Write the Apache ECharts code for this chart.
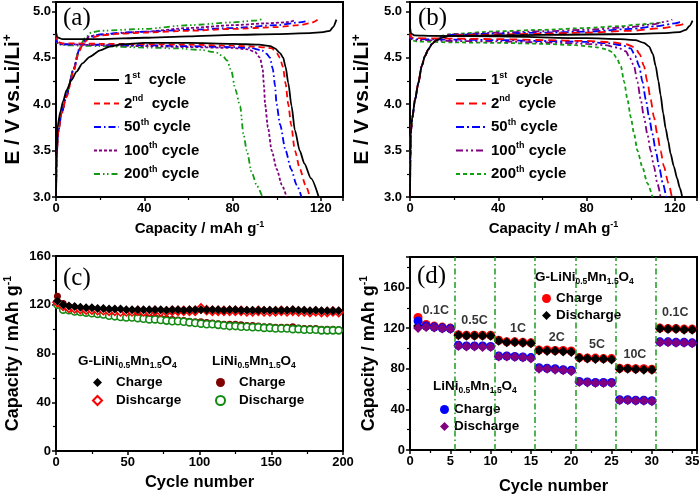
<!DOCTYPE html>
<html><head><meta charset="utf-8">
<script src="https://cdn.jsdelivr.net/npm/echarts/dist/echarts.min.js"></script>
<style>html,body{margin:0;padding:0;background:#fff}#c{width:700px;height:496px}</style>
</head><body><div id="c"></div>
<script>
// ---------- Panel (a): G-LiNi0.5Mn1.5O4 voltage profiles ----------
const a1_up = [[0,4.78],[0.6,4.72],[3,4.70],[20,4.70],[40,4.715],[60,4.73],[80,4.745],[100,4.755],[115,4.765],[121,4.775],[124,4.79],[125.5,4.83],[127,4.91]];
const a1_low = [[0,3.0],[0.3,3.5],[0.7,3.76],[2,3.92],[3.2,4.03],[4.8,4.15],[7,4.26],[9.3,4.35],[12,4.44],[15.3,4.51],[20,4.58],[24.3,4.62],[30,4.645],[40,4.66],[60,4.66],[80,4.65],[92,4.64],[97,4.625],[99.2,4.6],[101.5,4.55],[102.9,4.5],[104,4.4],[105.2,4.23],[106.7,3.98],[108.2,3.72],[110.4,3.5],[112.5,3.36],[115.5,3.2],[119,3.0]];
const a2_ch = [[0,3.0],[0.3,3.45],[1,3.7],[2.5,3.9],[4.8,4.08],[7.8,4.34],[10.5,4.57],[12.5,4.66],[15,4.71],[20,4.74],[30,4.76],[40,4.77],[60,4.79],[80,4.81],[100,4.83],[110,4.85],[115,4.87],[118.5,4.91]];
const a2_dis = [[0,4.76],[0.6,4.67],[3,4.655],[20,4.65],[40,4.645],[60,4.64],[80,4.63],[90,4.62],[95,4.61],[97.7,4.6],[100,4.55],[101.4,4.5],[102.8,4.4],[104,4.22],[105.2,4.0],[106.5,3.78],[108.2,3.5],[110.5,3.3],[113,3.13],[115,3.0]];
const a50_ch = [[0,3.0],[0.3,3.45],[1,3.7],[2.5,3.9],[4.8,4.1],[7.8,4.36],[10.5,4.58],[12.5,4.67],[15,4.72],[20,4.75],[30,4.77],[40,4.78],[60,4.80],[80,4.82],[100,4.85],[110,4.88],[114.5,4.90]];
const a50_dis = [[0,4.74],[0.6,4.66],[3,4.645],[20,4.64],[40,4.635],[60,4.625],[80,4.615],[88,4.605],[93.2,4.58],[95.5,4.54],[96.9,4.5],[98.2,4.38],[99.2,4.2],[99.9,4.0],[101.5,3.78],[104,3.5],[106.5,3.3],[109,3.13],[111.2,3.0]];
const a100_ch = [[0,3.0],[0.3,3.45],[1,3.7],[2.5,3.9],[4.8,4.1],[7.8,4.36],[10.5,4.59],[12.5,4.68],[15,4.73],[20,4.75],[40,4.78],[60,4.82],[80,4.85],[95,4.87],[104,4.88],[108,4.90]];
const a100_dis = [[0,4.73],[0.6,4.66],[3,4.645],[20,4.635],[40,4.625],[60,4.615],[80,4.605],[87,4.59],[90.2,4.56],[92.4,4.5],[93.6,4.38],[94.2,4.2],[94.7,4.0],[96,3.75],[97.7,3.5],[100,3.3],[102.3,3.13],[104.4,3.0]];
const a200_ch = [[0,3.0],[0.3,3.45],[1,3.7],[2.5,3.9],[4.8,4.1],[7.8,4.37],[10.5,4.6],[13,4.71],[16,4.77],[20,4.79],[40,4.81],[60,4.85],[80,4.88],[90,4.90],[94,4.92]];
const a200_dis = [[0,4.72],[0.6,4.65],[3,4.635],[20,4.625],[40,4.61],[55,4.6],[65,4.585],[72.2,4.56],[75.5,4.52],[77.5,4.47],[79.5,4.35],[81.2,4.16],[83.4,3.98],[84.9,3.68],[86.4,3.5],[88.7,3.26],[91,3.12],[93.5,3.0]];

// ---------- Panel (b): LiNi0.5Mn1.5O4 voltage profiles ----------
const b1_ch = [[0,3.0],[0.15,3.4],[0.3,3.68],[1,3.85],[2.3,4.05],[3.8,4.23],[5.3,4.41],[6.8,4.52],[8.3,4.59],[10,4.65],[12,4.69],[15,4.72],[18,4.735],[40,4.74],[60,4.745],[80,4.75],[100,4.755],[115,4.765],[122,4.775],[125,4.8],[126.5,4.84],[128,4.9]];
const b1_dis = [[0,4.83],[0.5,4.76],[2,4.74],[10,4.735],[40,4.73],[80,4.71],[95,4.70],[102,4.69],[106,4.66],[108.3,4.62],[110,4.54],[111.3,4.41],[112.5,4.25],[113.5,4.1],[114.7,3.9],[115.8,3.74],[117,3.6],[118,3.47],[119.5,3.33],[121,3.2],[122.2,3.1],[123.3,3.0]];
const b2_ch = [[0,3.0],[0.15,3.4],[0.3,3.68],[1,3.85],[2.3,4.05],[3.8,4.23],[5.3,4.41],[6.8,4.52],[8.3,4.59],[10,4.65],[12,4.69],[15,4.72],[18,4.74],[40,4.75],[60,4.76],[80,4.77],[100,4.79],[115,4.82],[122,4.85],[125.6,4.88]];
const b2_dis = [[0,4.78],[0.5,4.72],[3,4.71],[20,4.705],[40,4.70],[60,4.69],[80,4.68],[92,4.665],[98,4.645],[102,4.61],[104,4.54],[106,4.41],[107.5,4.24],[109,4.05],[110.5,3.86],[112,3.68],[113.5,3.5],[115,3.33],[117,3.15],[118.6,3.0]];
const b50_ch = [[0,3.0],[0.15,3.4],[0.3,3.68],[1,3.85],[2.3,4.05],[3.8,4.23],[5.3,4.41],[6.8,4.52],[8.3,4.59],[10,4.65],[12,4.69],[15,4.725],[18,4.745],[40,4.76],[60,4.77],[80,4.78],[100,4.81],[112,4.84],[120,4.87],[123.3,4.89]];
const b50_dis = [[0,4.77],[0.5,4.71],[3,4.70],[20,4.695],[40,4.69],[60,4.68],[80,4.67],[90,4.655],[96,4.635],[100,4.6],[102,4.52],[103.8,4.41],[105.3,4.24],[106.8,4.05],[108.3,3.86],[109.8,3.68],[111.3,3.5],[112.8,3.33],[114.5,3.15],[116,3.0]];
const b100_ch = [[0,3.0],[0.15,3.4],[0.3,3.68],[1,3.85],[2.3,4.05],[3.8,4.23],[5.3,4.41],[6.8,4.52],[8.3,4.59],[10,4.65],[12,4.69],[15,4.73],[18,4.75],[40,4.77],[60,4.785],[80,4.80],[100,4.83],[110,4.86],[116,4.89],[118.8,4.91]];
const b100_dis = [[0,4.76],[0.5,4.70],[3,4.69],[20,4.68],[40,4.675],[60,4.665],[80,4.65],[88,4.635],[94,4.61],[97.7,4.57],[99.5,4.5],[101.5,4.41],[103,4.24],[104.5,4.05],[106,3.86],[107.5,3.68],[109,3.5],[110.5,3.33],[112,3.15],[113.5,3.0]];
const b200_ch = [[0,3.0],[0.15,3.4],[0.3,3.68],[1,3.85],[2.3,4.05],[3.8,4.23],[5.3,4.41],[6.8,4.52],[8.3,4.59],[10,4.65],[12,4.7],[15,4.74],[18,4.755],[40,4.785],[60,4.80],[80,4.82],[95,4.84],[105,4.86],[111,4.87],[114.3,4.88]];
const b200_dis = [[0,4.74],[0.5,4.69],[3,4.675],[20,4.665],[40,4.66],[60,4.65],[75,4.635],[84,4.615],[89,4.59],[91.7,4.56],[93.5,4.5],[95.5,4.41],[97,4.24],[98.5,4.05],[100,3.86],[101.5,3.68],[103,3.5],[105.3,3.32],[107.5,3.15],[109.8,3.0]];

// ---------- Panel (c): cycling ----------
const cCycles = [1,5,9,13,17,21,25,29,33,37,41,45,49,53,57,61,65,69,73,77,81,85,89,93,97,101,105,109,113,117,121,125,129,133,137,141,145,149,153,157,161,165,169,173,177,181,185,189,193,197];
const cGCharge = [123,120,119,118.5,118,117.5,117.5,117,117,116.5,116.5,116.5,116,116,116,116,116,116,116,115.5,116,116,115.5,116,116,116,116,116,116,115.5,116,116,115.5,115.5,115.5,115.5,115.5,115.5,115.5,115.5,115.5,116,115.5,115.5,115,115.5,115,115,115,115];
const cGDischarge = [122,119,117.5,117,116.5,116,116,115.5,115.5,115,115,114.5,114.5,114.5,115,114.5,114.5,115,114.5,114.5,115,115,115,115,115,117,115.5,115,115,115,115,115,115,114.5,114.5,115,114.5,114.5,114.5,115,114.5,115,114.5,114.5,114,114.5,114,114,114.5,114];
const cLCharge = [127,121,118.5,117,116.5,115.5,115,114.5,114,113.5,113,112.5,112,111.5,111,110.5,110,109.5,109,108.5,108,107.5,107,106.5,106,106,105.5,105,104.5,104,104,104,103.5,103,103,102.5,102,102,101.5,101.5,101.5,102,101,100.5,100.5,100.5,100,100,100,99.5];
const cLDischarge = [120,116,115.5,114.5,114,113.5,113,112.5,112,111,110.5,110,109.5,109.5,109,108.5,108,108,107.5,107,106.5,106.5,106,105.5,105,104.5,104,104,103.5,103,102.5,102.5,102,102,101.5,101.5,101,101,100.5,100.5,100.5,100,100,99.5,99.5,99.5,99,99,99,99];

// ---------- Panel (d): rate capability ----------
const dCycles = [1,2,3,4,5,6,7,8,9,10,11,12,13,14,15,16,17,18,19,20,21,22,23,24,25,26,27,28,29,30,31,32,33,34,35];
const dGCharge = [130.5,123.5,122,121,120,113.5,113,113,113,113,108,106.5,106.5,106,105.5,98.5,98.5,98,98,97.5,91,90.5,90.5,90,90,80.5,80.5,80,80,79.5,120,119.5,119.5,119,119];
const dGDischarge = [122,121.5,121,120,119.5,113,112.5,112.5,112.5,112.5,107.5,106,106,105.5,105,98,97.5,97.5,97,96.5,90.5,90,89.5,89.5,89,80,80,79.5,79,79,119.5,119,119,118.5,118.5];
const dLCharge = [127,122,121,120,119.5,103,102.5,102.5,102.5,102,92.5,92.5,92,91.5,91,81,80.5,80,79,78.5,67.5,67,66.5,66.5,66.5,49.5,49.5,49,49,48.5,106.5,106.5,106,106,105.5];
const dLDischarge = [120,121,120.5,119.5,119,102.5,102,102,101.5,101.5,92,92,91.5,91,90,80,80,79,78.5,77.5,67,66.5,66,66,66,49,49,48.5,48.5,48,106,106,105.5,105.5,105];
const rateBoundaries = [5.5,10.5,15.5,20.5,25.5,30.5];
const rateLabels = ['0.1C','0.5C','1C','2C','5C','10C','0.1C'];
const rateLabelX = [3.2,8.0,13.4,18.2,23.2,27.9,32.9];
const rateLabelY = [137,127.5,120,111,104,94,135];

// ---------- rendering ----------
const FONT = 'Liberation Sans';
const chart = echarts.init(document.getElementById('c'), null, {renderer:'canvas'});

const supRich = {
  m:{fontFamily:FONT,fontWeight:'bold',fontSize:15,color:'#000',lineHeight:18},
  s:{fontFamily:FONT,fontWeight:'bold',fontSize:9,color:'#000',verticalAlign:'top',lineHeight:9}
};
const supRichE = {
  m:{fontFamily:FONT,fontWeight:'bold',fontSize:21,color:'#000',lineHeight:22},
  s:{fontFamily:FONT,fontWeight:'bold',fontSize:12,color:'#000',verticalAlign:'top',lineHeight:12}
};
const supRichY = {
  m:{fontFamily:FONT,fontWeight:'bold',fontSize:18,color:'#000',lineHeight:20},
  s:{fontFamily:FONT,fontWeight:'bold',fontSize:10.5,color:'#000',verticalAlign:'top',lineHeight:10}
};
function axisBase(extra){
  return Object.assign({
    type:'value',
    axisLine:{show:true,onZero:false,lineStyle:{color:'#000',width:2}},
    axisTick:{show:true,inside:false,length:4,lineStyle:{color:'#000',width:1.5}},
    minorTick:{show:true,splitNumber:2,length:3,lineStyle:{color:'#000',width:1.2}},
    splitLine:{show:false},
    nameLocation:'middle'
  }, extra);
}
function lbl(extra){
  return Object.assign({color:'#000',fontFamily:FONT,fontWeight:'bold',fontSize:13,margin:5}, extra);
}
const capName = '{m|Capacity / mAh g}{s|-1}';
const eName = '{m|E / V vs.Li/Li}{s|+}';
const cycStyle = {fontFamily:FONT,fontWeight:'bold',fontSize:16.5,color:'#000'};

const xAxis = [
  axisBase({gridIndex:0,min:0,max:130,interval:40,name:capName,nameGap:23,nameTextStyle:{rich:supRich},axisLabel:lbl({showMaxLabel:false})}),
  axisBase({gridIndex:1,min:0,max:130,interval:40,name:capName,nameGap:23,nameTextStyle:{rich:supRich},axisLabel:lbl({showMaxLabel:false})}),
  axisBase({gridIndex:2,min:0,max:200,interval:50,name:'Cycle number',nameGap:23,nameTextStyle:cycStyle,axisLabel:lbl({})}),
  axisBase({gridIndex:3,min:0,max:35.6,interval:5,name:'Cycle number',nameGap:28,nameTextStyle:cycStyle,axisLabel:lbl({showMaxLabel:false})})
];
const yAxis = [
  axisBase({gridIndex:0,min:3.0,max:5.1,interval:0.5,name:eName,nameGap:32,nameTextStyle:{rich:supRichE},axisLabel:lbl({showMaxLabel:false,formatter:v=>v.toFixed(1)})}),
  axisBase({gridIndex:1,min:3.0,max:5.1,interval:0.5,name:eName,nameGap:37,nameTextStyle:{rich:supRichE},axisLabel:lbl({showMaxLabel:false,margin:8,formatter:v=>v.toFixed(1)})}),
  axisBase({gridIndex:2,min:0,max:160,interval:40,name:capName,nameGap:33,nameTextStyle:{rich:supRichY},axisLabel:lbl({})}),
  axisBase({gridIndex:3,min:0,max:190,interval:40,name:capName,nameGap:31,nameTextStyle:{rich:supRichY},axisLabel:lbl({showMaxLabel:false})})
];
const gridBase = {show:true,borderColor:'#000',borderWidth:2,backgroundColor:'#fff',containLabel:false,outerBoundsMode:'none'};
const grid = [
  Object.assign({left:56,top:2,width:287,height:195},gridBase),
  Object.assign({left:410,top:2,width:287,height:195},gridBase),
  Object.assign({left:56,top:256,width:287,height:195},gridBase),
  Object.assign({left:410,top:257,width:287,height:193},gridBase)
];

const series = [];
function curve(gi,name,data,color,type){
  series.push({type:'line',name,xAxisIndex:gi,yAxisIndex:gi,data,symbol:'none',showSymbol:false,
    smooth:0.25,smoothMonotone:'x',animation:false,
    lineStyle:{color,width:1.8,type},itemStyle:{color}});
}
// panel a (drawn back to front)
const aStyles = {
  a200:{c:'#149914',t:[6,3,1.5,2.5,1.5,3]},
  a100:{c:'#800080',t:[3,2]},
  a50:{c:'#0000ff',t:[7,3,1.5,3]},
  a2:{c:'#ff0000',t:[6,4]},
  a1:{c:'#000000',t:'solid'}
};
curve(0,'a200',a200_ch,aStyles.a200.c,aStyles.a200.t); curve(0,'a200',a200_dis,aStyles.a200.c,aStyles.a200.t);
curve(0,'a100',a100_ch,aStyles.a100.c,aStyles.a100.t); curve(0,'a100',a100_dis,aStyles.a100.c,aStyles.a100.t);
curve(0,'a50',a50_ch,aStyles.a50.c,aStyles.a50.t); curve(0,'a50',a50_dis,aStyles.a50.c,aStyles.a50.t);
curve(0,'a2',a2_ch,aStyles.a2.c,aStyles.a2.t); curve(0,'a2',a2_dis,aStyles.a2.c,aStyles.a2.t);
curve(0,'a1',a1_up,aStyles.a1.c,aStyles.a1.t); curve(0,'a1',a1_low,aStyles.a1.c,aStyles.a1.t);
// panel b
const bStyles = {
  b200:{c:'#10a010',t:[4,3]},
  b100:{c:'#800080',t:[7,3,2,3,2,3]},
  b50:{c:'#0000ff',t:[8,3,2,3]},
  b2:{c:'#ff0000',t:[8,5]},
  b1:{c:'#000000',t:'solid'}
};
curve(1,'b200',b200_ch,bStyles.b200.c,bStyles.b200.t); curve(1,'b200',b200_dis,bStyles.b200.c,bStyles.b200.t);
curve(1,'b100',b100_ch,bStyles.b100.c,bStyles.b100.t); curve(1,'b100',b100_dis,bStyles.b100.c,bStyles.b100.t);
curve(1,'b50',b50_ch,bStyles.b50.c,bStyles.b50.t); curve(1,'b50',b50_dis,bStyles.b50.c,bStyles.b50.t);
curve(1,'b2',b2_ch,bStyles.b2.c,bStyles.b2.t); curve(1,'b2',b2_dis,bStyles.b2.c,bStyles.b2.t);
curve(1,'b1',b1_ch,bStyles.b1.c,bStyles.b1.t); curve(1,'b1',b1_dis,bStyles.b1.c,bStyles.b1.t);

function scatter(gi,name,xs,ys,symbol,size,fill,border,bw){
  series.push({type:'scatter',name,xAxisIndex:gi,yAxisIndex:gi,data:xs.map((x,i)=>[x,ys[i]]),
    symbol,symbolSize:size,animation:false,
    itemStyle:{color:fill,borderColor:border,borderWidth:bw,opacity:1}});
}
// panel c
scatter(2,'cLc',cCycles,cLCharge,'circle',7,'#800000','#800000',0);
scatter(2,'cLd',cCycles,cLDischarge,'circle',7,'#ffffff','#128a12',1.6);
scatter(2,'cGd',cCycles,cGDischarge,'diamond',9,'#ffffff','#ff0000',1.6);
scatter(2,'cGc',cCycles,cGCharge,'diamond',9,'#000000','#000000',0);
// panel d
scatter(3,'dGc',dCycles,dGCharge,'circle',9,'#ff0000','#ff0000',0);
scatter(3,'dGd',dCycles,dGDischarge,'diamond',10,'#000000','#000000',0);
scatter(3,'dLc',dCycles,dLCharge,'circle',9,'#0000ff','#0000ff',0);
scatter(3,'dLd',dCycles,dLDischarge,'diamond',10,'#800080','#800080',0);
// rate boundaries and labels
series.push({type:'line',xAxisIndex:3,yAxisIndex:3,data:[],silent:true,animation:false,
  markLine:{silent:true,symbol:'none',label:{show:false},animation:false,
    lineStyle:{color:'#1c9a1c',width:1.5,type:[6,3,1.5,3]},
    data:rateBoundaries.map(x=>({xAxis:x}))}});
series.push({type:'scatter',xAxisIndex:3,yAxisIndex:3,symbolSize:1,animation:false,silent:true,
  itemStyle:{color:'rgba(0,0,0,0)'},
  data:rateLabels.map((t,i)=>({name:t,value:[rateLabelX[i],rateLabelY[i]]})),
  label:{show:true,position:'inside',formatter:'{b}',color:'#000',fontFamily:FONT,fontWeight:'bold',fontSize:12.5}});

const legendText = {
  a1:'{n|1}{s|st}{n|  cycle}', a2:'{n|2}{s|nd}{n|  cycle}', a50:'{n|50}{s|th}{n| cycle}', a100:'{n|100}{s|th}{n| cycle}', a200:'{n|200}{s|th}{n| cycle}',
  b1:'{n|1}{s|st}{n|  cycle}', b2:'{n|2}{s|nd}{n|  cycle}', b50:'{n|50}{s|th}{n| cycle}', b100:'{n|100}{s|th}{n| cycle}', b200:'{n|200}{s|th}{n| cycle}',
  cGc:'{p|}Charge', cGd:'{p|}Dishcarge', cLc:'{p|}Charge', cLd:'{p|}Discharge',
  dGc:'Charge', dGd:'Discharge', dLc:'Charge', dLd:'Discharge'
};
const legRich = {
  n:{fontFamily:FONT,fontWeight:'bold',fontSize:15,color:'#000',lineHeight:18},
  s:{fontFamily:FONT,fontWeight:'bold',fontSize:9,color:'#000',verticalAlign:'top',lineHeight:9},
  p:{width:8}
};
function legend(data,left,top,extra){
  return Object.assign({data,left,top,orient:'vertical',padding:0,itemGap:7,itemWidth:25,itemHeight:14,
    selectedMode:false,formatter:n=>legendText[n],
    itemStyle:{opacity:0},
    textStyle:{fontFamily:FONT,fontWeight:'bold',fontSize:15,color:'#000',rich:legRich}},extra);
}
const smallText = {fontFamily:FONT,fontWeight:'bold',fontSize:13.5,color:'#000',lineHeight:17,rich:{p:{width:9}}};
const legends = [
  legend(['a1','a2','a50','a100','a200'],93,71,{}),
  legend(['b1','b2','b50','b100','b200'],455,71,{itemWidth:30}),
  legend(['cGc','cGd'],92,374,{itemWidth:9,itemHeight:9,itemGap:1,itemStyle:{},textStyle:smallText}),
  legend(['cLc','cLd'],215,374,{itemWidth:9,itemHeight:9,itemGap:1,itemStyle:{},textStyle:smallText}),
  legend(['dGc','dGd'],542,290,{itemWidth:9,itemHeight:9,itemGap:0,itemStyle:{},textStyle:smallText}),
  legend(['dLc','dLd'],440,401,{itemWidth:9,itemHeight:9,itemGap:0,itemStyle:{},textStyle:smallText})
];

const subRich = {
  t:{fontFamily:FONT,fontWeight:'bold',fontSize:13.5,color:'#000',lineHeight:18},
  s:{fontFamily:FONT,fontWeight:'bold',fontSize:8.5,color:'#000',verticalAlign:'bottom',lineHeight:9}
};
const formula = '{t|LiNi}{s|0.5}{t|Mn}{s|1.5}{t|O}{s|4}';
function panelTitle(text,left,top){
  return {text,left,top,padding:0,textStyle:{fontFamily:'Liberation Serif',fontWeight:'normal',fontSize:25,color:'#000'}};
}
function header(text,left,top){
  return {text,left,top,padding:0,textStyle:{rich:subRich}};
}
const titles = [
  panelTitle('(a)',63,6), panelTitle('(b)',418,6), panelTitle('(c)',63,266), panelTitle('(d)',417,264),
  header('{t|G-}'+formula,78,352), header(formula,212,352),
  header('{t|G-}'+formula,535,268), header(formula,433,377)
];

chart.setOption({backgroundColor:'#fff',animation:false,title:titles,legend:legends,grid,xAxis,yAxis,series});
</script></body></html>
